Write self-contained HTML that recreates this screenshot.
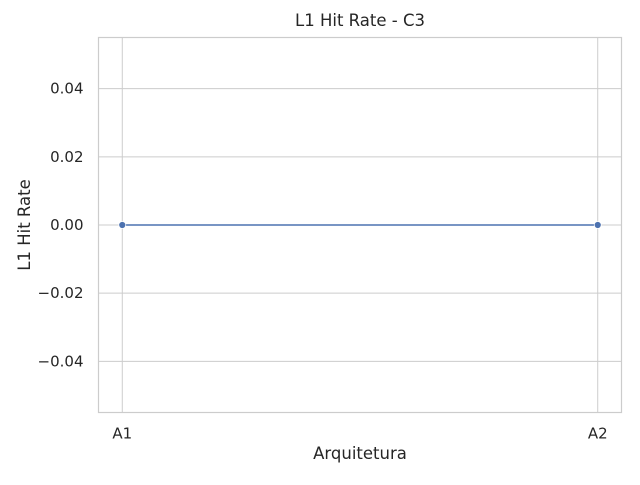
<!DOCTYPE html>
<html><head><meta charset="utf-8"><style>
body{margin:0;background:#fff}
svg{font-family:"DejaVu Sans","Liberation Sans",sans-serif;}
</style></head><body>
<svg id="chart" width="640" height="480" viewBox="0 0 640 480">
<rect width="640" height="480" fill="#fff"/>
<g id="grid"></g>
<rect x="98.5" y="37.5" width="523" height="375" fill="none" stroke="#cccccc" stroke-width="1.2"/>
<g id="ticks"></g>
<g id="series"></g>
<text x="360" y="26" font-size="16.5" text-anchor="middle" fill="#262626">L1 Hit Rate - C3</text>
<text x="360" y="459" font-size="16.5" text-anchor="middle" fill="#262626">Arquitetura</text>
<text x="0" y="0" font-size="16.5" text-anchor="middle" fill="#262626" transform="translate(30,225) rotate(-90)">L1 Hit Rate</text>
</svg>
<script>
const categories=["A1","A2"];
const values=[0,0];
const yTicks=[0.04,0.02,0,-0.02,-0.04];
const yTickLabels=["0.04","0.02","0.00","\u22120.02","\u22120.04"];
const L=98.5,R=621.5,T=37.5,B=412.5,yMin=-0.055,yMax=0.055;
function xs(i){const lo=-0.05,hi=categories.length-1+0.05;return L+(i-lo)/(hi-lo)*(R-L);}
function ys(v){return B-(v-yMin)/(yMax-yMin)*(B-T);}
const NS="http://www.w3.org/2000/svg";
function mk(t,a,p){const e=document.createElementNS(NS,t);for(const k in a)e.setAttribute(k,a[k]);p.appendChild(e);return e;}
const grid=document.getElementById('grid'),ticks=document.getElementById('ticks'),ser=document.getElementById('series');
yTicks.forEach((v,i)=>{
 const g=mk('line',{x1:L,x2:R,y1:ys(v),y2:ys(v),stroke:'#cccccc','stroke-width':1},grid);
 
 
 const t=mk('text',{x:L-15,y:ys(v)+5,'font-size':15,'text-anchor':'end',fill:'#262626'},ticks);
 t.textContent=yTickLabels[i];
 
 
});
categories.forEach((c,i)=>{
 const g=mk('line',{x1:xs(i),x2:xs(i),y1:T,y2:B,stroke:'#cccccc','stroke-width':1},grid);
 
 
 const t=mk('text',{x:xs(i),y:B+26,'font-size':15,'text-anchor':'middle',fill:'#262626'},ticks);
 t.textContent=c;
 
 
});
const pts=values.map((v,i)=>xs(i)+','+ys(v)).join(' ');
const line=mk('polyline',{points:pts,fill:'none',stroke:'#4c72b0','stroke-width':1.6},ser);


values.forEach((v,i)=>{
 const p=mk('circle',{cx:xs(i),cy:ys(v),r:3.5,fill:'#4c72b0',stroke:'#fff','stroke-width':0.8},ser);
 
 
});
</script>
</body></html>
